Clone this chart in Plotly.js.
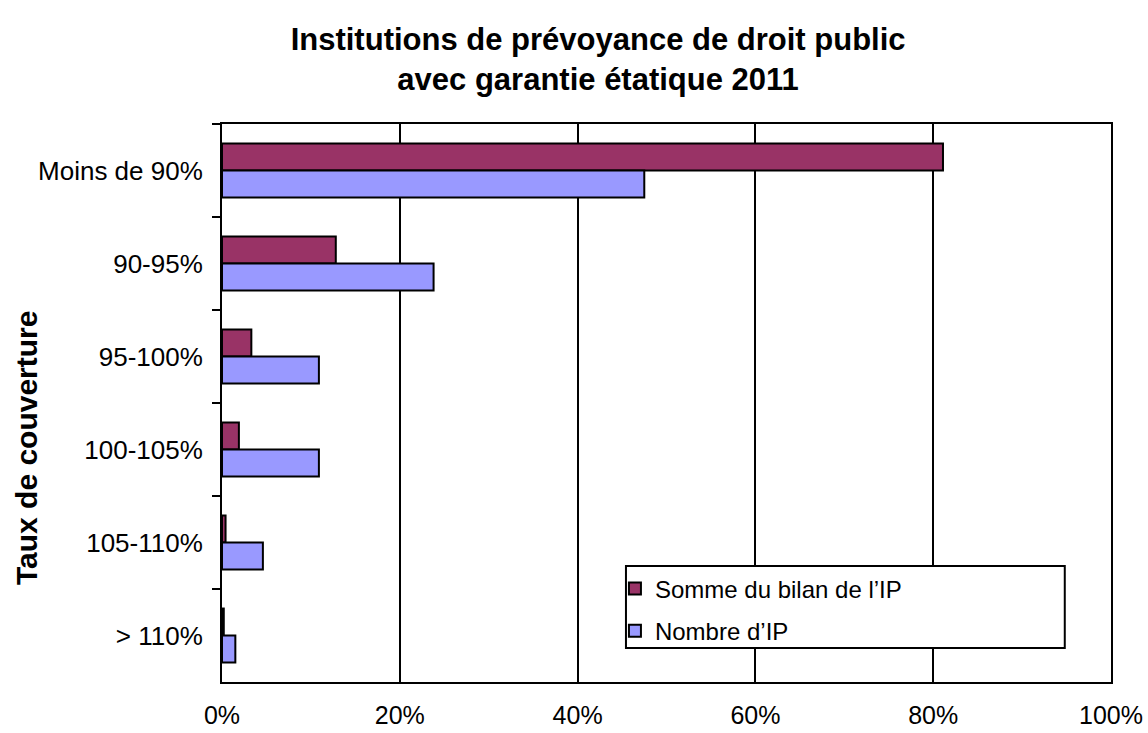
<!DOCTYPE html>
<html>
<head>
<meta charset="utf-8">
<script src="https://cdn.plot.ly/plotly-3.0.1.min.js"></script>
<style>html,body{margin:0;padding:0;background:#fff;}#chart{width:1148px;height:733px;}</style>
</head>
<body>
<div id="chart"></div>
<script>
const categories = ["Moins de 90%", "90-95%", "95-100%", "100-105%", "105-110%", "> 110%"];
const sommeBilan = [0.811, 0.128, 0.033, 0.019, 0.004, 0.002];
const nombreIP = [0.475, 0.238, 0.109, 0.109, 0.046, 0.015];
const seriesNames = ["Somme du bilan de l\u2019IP", "Nombre d\u2019IP"];
const xTicks = [0, 0.2, 0.4, 0.6, 0.8, 1.0];
const xTickLabels = ["0%", "20%", "40%", "60%", "80%", "100%"];

const font = "Arial, 'Liberation Sans', sans-serif";

const traces = [
  {type: "bar", orientation: "h", name: seriesNames[0], y: categories, x: sommeBilan,
   legendgroup: "a",
   marker: {color: "#993366", line: {color: "#000", width: 2}}},
  {type: "bar", orientation: "h", name: seriesNames[1], y: categories, x: nombreIP,
   legendgroup: "b",
   marker: {color: "#9999FF", line: {color: "#000", width: 2}}}
];

const layout = {
  width: 1148, height: 733,
  margin: {l: 222, r: 37, t: 124, b: 51},
  paper_bgcolor: "#fff", plot_bgcolor: "#fff",
  font: {family: font, size: 20, color: "#000"},
  title: {text: "<b>Institutions de prévoyance de droit public<br>avec garantie étatique 2011</b>",
          font: {family: font, size: 31, color: "#000"}, x: 0.521, xanchor: "center",
          yref: "container", y: 0.932, yanchor: "top"},
  barmode: "group", bargap: 0.42, bargroupgap: 0,
  xaxis: {range: [0, 1], tickvals: xTicks, ticktext: xTickLabels,
          showgrid: true, gridcolor: "#000", gridwidth: 2,
          showline: true, linecolor: "#000", linewidth: 2, mirror: true,
          ticks: "", zeroline: false, tickfont: {size: 25}, ticklabelstandoff: 10, fixedrange: true},
  yaxis: {autorange: "reversed", type: "category",
          showline: true, linecolor: "#000", linewidth: 2, mirror: true,
          ticks: "outside", tickson: "boundaries", ticklen: 8, tickwidth: 2, tickcolor: "#000",
          ticklabelstandoff: 12,
          showgrid: false, tickfont: {size: 26}},
  annotations: [{text: "<b>Taux de couverture</b>", textangle: -90, showarrow: false,
                 xref: "paper", yref: "paper", x: -0.22, y: 0.42, xanchor: "center", yanchor: "middle",
                 font: {family: font, size: 30, color: "#000"}}],
  shapes: [{type: "rect", xref: "paper", yref: "paper", x0: 0.4544, x1: 0.948, y0: 0.061, y1: 0.208,
            line: {color: "#000", width: 2}, fillcolor: "#fff", layer: "above"}],
  showlegend: true,
  legend: {x: 0.442, xanchor: "left", y: 0.207, yanchor: "top",
           bgcolor: "rgba(0,0,0,0)", borderwidth: 0,
           font: {size: 24}, traceorder: "grouped", tracegroupgap: 8, itemwidth: 30}
};

Plotly.newPlot("chart", traces, layout, {displayModeBar: false, staticPlot: true});
</script>
</body>
</html>
